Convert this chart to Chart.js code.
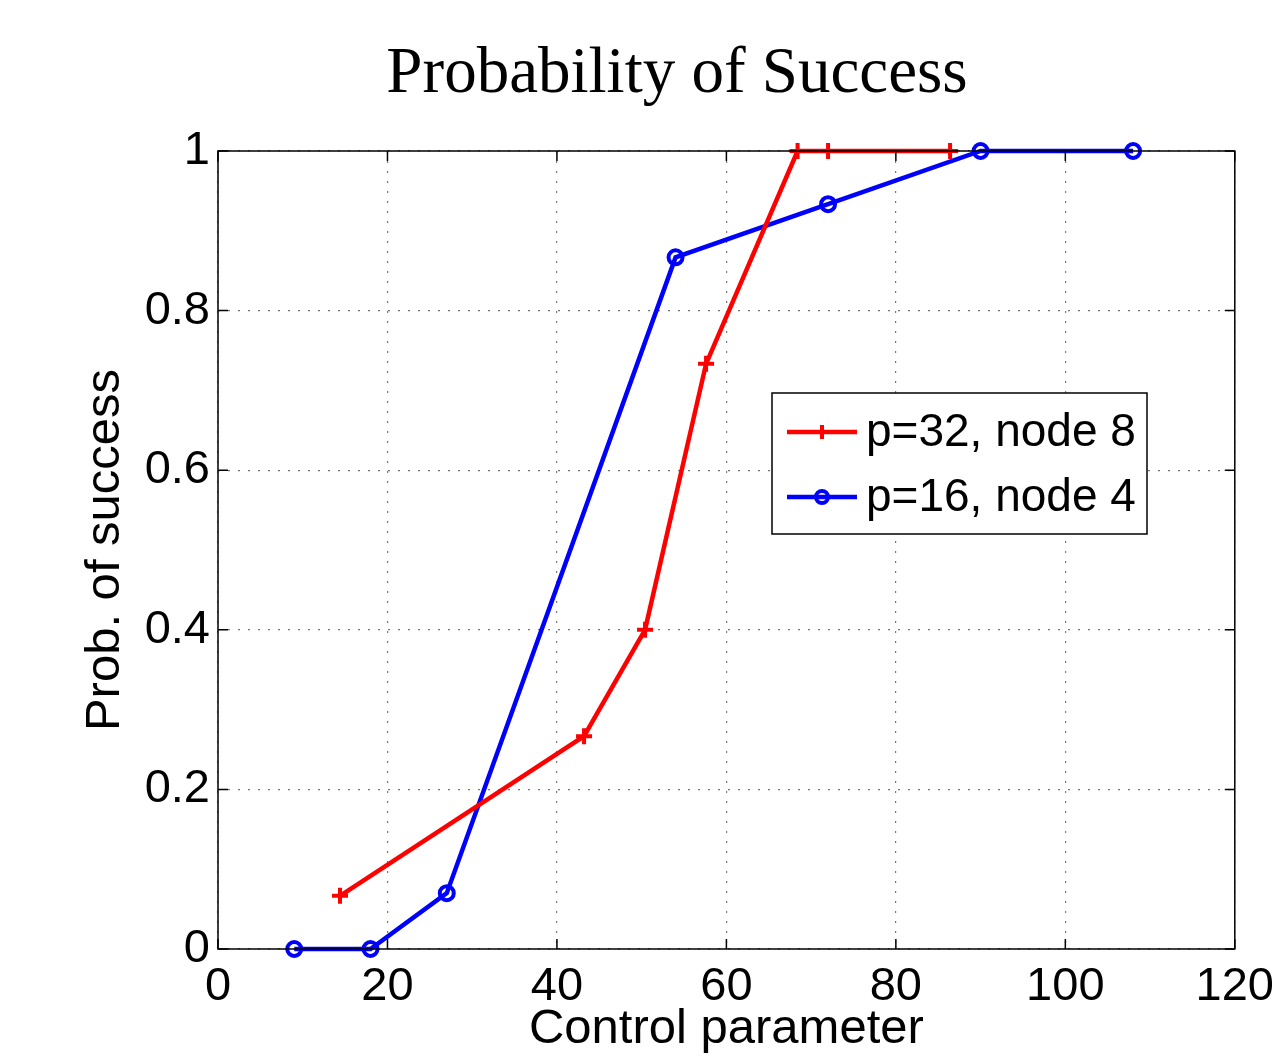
<!DOCTYPE html>
<html>
<head>
<meta charset="utf-8">
<script src="https://cdn.jsdelivr.net/npm/chart.js@4.4.1/dist/chart.umd.min.js"></script>
<style>
  html, body { margin: 0; padding: 0; background: #fff; }
  #wrap { width: 1284px; height: 1057px; }
</style>
</head>
<body>
<div id="wrap"><canvas id="chart" width="1284" height="1057"></canvas></div>
<script>
// ---------- DATA ----------
const chartTitle = "Probability of Success";

const redLabel = "p=32, node 8";
const redX = [14.4, 43.2, 50.4, 57.6, 68.4, 72, 86.4];
const redY = [0.0667, 0.2667, 0.4, 0.7333, 1, 1, 1];

const blueLabel = "p=16, node 4";
const blueX = [9, 18, 27, 54, 72, 90, 108];
const blueY = [0, 0, 0.07, 0.8667, 0.9333, 1, 1];

const xTicks = [0, 20, 40, 60, 80, 100, 120];
const yTicks = [0, 0.2, 0.4, 0.6, 0.8, 1];

const toPoints = (xs, ys) => xs.map((x, i) => ({ x, y: ys[i] }));

// title drawn off-centre like the original figure
const topTitle = {
    id: "topTitle",
    afterDraw(chart) {
        const { ctx } = chart;
        ctx.save();
        ctx.fillStyle = "#000";
        ctx.font = "65px 'Liberation Serif', 'Times New Roman', serif";
        ctx.textAlign = "center";
        ctx.textBaseline = "alphabetic";
        ctx.fillText(chartTitle, 677, 92);
        ctx.restore();
    }
};

// frame + inward ticks (matlab style)
const frameTicks = {
    id: "frameTicks",
    afterDatasetsDraw(chart) {
        const { ctx, chartArea: a, scales } = chart;
        const len = 10;
        ctx.save();
        ctx.strokeStyle = "#000";
        ctx.lineWidth = 1.5;
        ctx.beginPath();
        xTicks.forEach(v => {
            const px = scales.x.getPixelForValue(v);
            ctx.moveTo(px, a.bottom); ctx.lineTo(px, a.bottom - len);
            ctx.moveTo(px, a.top); ctx.lineTo(px, a.top + len);
        });
        yTicks.forEach(v => {
            const py = scales.y.getPixelForValue(v);
            ctx.moveTo(a.left, py); ctx.lineTo(a.left + len, py);
            ctx.moveTo(a.right, py); ctx.lineTo(a.right - len, py);
        });
        ctx.stroke();
        ctx.strokeRect(a.left, a.top, a.right - a.left, a.bottom - a.top);
        ctx.restore();
    }
};

// legend box inside the plot
const boxLegend = {
    id: "boxLegend",
    afterDraw(chart) {
        const { ctx } = chart;
        const x0 = 772, y0 = 393, w = 375, h = 141;
        const rows = [432, 497];
        ctx.save();
        ctx.fillStyle = "#fff";
        ctx.fillRect(x0, y0, w, h);
        ctx.strokeStyle = "#000";
        ctx.lineWidth = 1.5;
        ctx.strokeRect(x0, y0, w, h);
        chart.data.datasets.forEach((ds, i) => {
            const y = rows[i];
            ctx.strokeStyle = ds.borderColor;
            ctx.lineWidth = ds.borderWidth;
            ctx.beginPath();
            ctx.moveTo(787, y); ctx.lineTo(857, y);
            ctx.stroke();
            ctx.lineWidth = ds.pointBorderWidth;
            ctx.beginPath();
            if (ds.pointStyle === "cross") {
                ctx.moveTo(822 - 7, y); ctx.lineTo(822 + 7, y);
                ctx.moveTo(822, y - 7); ctx.lineTo(822, y + 7);
            } else {
                ctx.arc(822, y, 6, 0, Math.PI * 2);
            }
            ctx.stroke();
            ctx.fillStyle = "#000";
            ctx.font = "46px 'Liberation Sans', Arial, sans-serif";
            ctx.textBaseline = "middle";
            ctx.textAlign = "left";
            ctx.fillText(ds.label, 866, y + 1);
        });
        ctx.restore();
    }
};

new Chart(document.getElementById("chart").getContext("2d"), {
    type: "line",
    data: {
        datasets: [
            {
                label: redLabel,
                data: toPoints(redX, redY),
                borderColor: "#ff0000",
                backgroundColor: "transparent",
                borderWidth: 4.5,
                pointStyle: "cross",
                pointRadius: 8,
                pointBorderWidth: 4,
                pointBorderColor: "#ff0000",
                tension: 0,
                clip: false
            },
            {
                label: blueLabel,
                data: toPoints(blueX, blueY),
                borderColor: "#0000ff",
                backgroundColor: "transparent",
                borderWidth: 4.5,
                pointStyle: "circle",
                pointRadius: 7,
                pointBorderWidth: 4,
                pointBorderColor: "#0000ff",
                pointBackgroundColor: "transparent",
                tension: 0,
                clip: false
            }
        ]
    },
    options: {
        responsive: false,
        animation: false,
        layout: { padding: { left: 0, right: 49, top: 151, bottom: 0 } },
        plugins: {
            legend: { display: false },
            tooltip: { enabled: false },
            title: { display: false }
        },
        scales: {
            x: {
                type: "linear",
                min: 0,
                max: 120,
                afterFit: s => { s.height = 108; },
                afterBuildTicks: s => { s.ticks = xTicks.map(v => ({ value: v })); },
                ticks: {
                    color: "#000",
                    padding: 10,
                    maxRotation: 0,
                    font: { family: "'Liberation Sans', Arial, sans-serif", size: 47 }
                },
                grid: { color: "#777", lineWidth: 1.2, drawTicks: false },
                border: { display: false, dash: [2, 8] },
                title: {
                    display: true,
                    text: "Control parameter",
                    color: "#000",
                    font: { family: "'Liberation Sans', Arial, sans-serif", size: 49 },
                    padding: { top: 0, bottom: -2 }
                }
            },
            y: {
                type: "linear",
                min: 0,
                max: 1,
                afterFit: s => { s.width = 218; },
                afterBuildTicks: s => { s.ticks = yTicks.map(v => ({ value: v })); },
                ticks: {
                    color: "#000",
                    padding: 8,
                    callback: v => String(Math.round(v * 10) / 10),
                    font: { family: "'Liberation Sans', Arial, sans-serif", size: 47 }
                },
                grid: { color: "#777", lineWidth: 1.2, drawTicks: false },
                border: { display: false, dash: [2, 8] },
                title: {
                    display: true,
                    text: "Prob. of success",
                    color: "#000",
                    font: { family: "'Liberation Sans', Arial, sans-serif", size: 49 },
                    padding: { top: 76, bottom: 0 }
                }
            }
        }
    },
    plugins: [topTitle, frameTicks, boxLegend]
});
</script>
</body>
</html>
